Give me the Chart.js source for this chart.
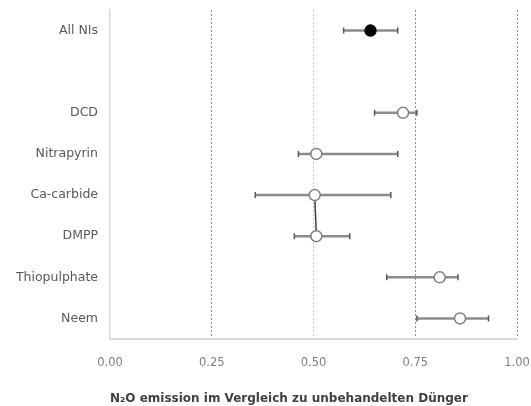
<!DOCTYPE html>
<html>
<head>
<meta charset="utf-8">
<script src="https://cdn.jsdelivr.net/npm/chart.js@4.4.1/dist/chart.umd.min.js"></script>
<style>
  html, body { margin: 0; padding: 0; background: #fff; }
  #wrap { width: 531px; height: 406px; position: relative; }
</style>
</head>
<body>
<div id="wrap"><canvas id="forestChart"></canvas></div>
<script>
// Kategorien (leere Zeile zwischen All NIs und DCD)
const categories = ['All NIs', '', 'DCD', 'Nitrapyrin', 'Ca-carbide', 'DMPP', 'Thiopulphate', 'Neem'];
const rows = ['All NIs', 'DCD', 'Nitrapyrin', 'Ca-carbide', 'DMPP', 'Thiopulphate', 'Neem'];
const means = [0.64, 0.72, 0.507, 0.503, 0.507, 0.81, 0.86];
const lower = [0.574, 0.65, 0.463, 0.357, 0.453, 0.68, 0.754];
const upper = [0.707, 0.754, 0.707, 0.69, 0.589, 0.855, 0.93];
const xTicks = [0, 0.25, 0.5, 0.75, 1];
const xTitle = 'N\u2082O emission im Vergleich zu unbehandelten Dünger';

// Fehlerbalken als eigene Linien
const errorSets = rows.map((r, i) => ({
    type: 'line',
    data: [{ x: lower[i], y: r }, { x: upper[i], y: r }],
    borderColor: '#8c8c8c',
    borderWidth: 2.5,
    pointStyle: 'line',
    rotation: 90,
    pointRadius: 3,
    pointBorderColor: '#595959',
    pointBorderWidth: 1.5,
    pointBackgroundColor: '#595959',
    order: 2
}));

// Verbindungslinie Ca-carbide / DMPP
const linkSet = {
    type: 'line',
    data: [{ x: means[3], y: rows[3] }, { x: means[4], y: rows[4] }],
    borderColor: '#404040',
    borderWidth: 1.5,
    pointRadius: 0,
    order: 1
};

const pointSet = {
    type: 'scatter',
    data: rows.map((r, i) => ({ x: means[i], y: r })),
    pointRadius: 5.5,
    pointBorderWidth: 1.5,
    pointBorderColor: rows.map((r, i) => i === 0 ? '#000000' : '#7f7f7f'),
    pointBackgroundColor: rows.map((r, i) => i === 0 ? '#000000' : '#ffffff'),
    order: 0
};

new Chart(document.getElementById('forestChart'), {
    type: 'scatter',
    data: { datasets: [...errorSets, linkSet, pointSet] },
    options: {
        responsive: true,
        maintainAspectRatio: false,
        animation: false,
        layout: { padding: { top: 10, right: 14, left: 0, bottom: 0 } },
        plugins: {
            legend: { display: false },
            tooltip: { enabled: false }
        },
        scales: {
            x: {
                type: 'linear',
                min: 0,
                max: 1,
                afterBuildTicks: (s) => { s.ticks = xTicks.map(v => ({ value: v })); },
                afterFit: (s) => { s.height = 67; s.paddingLeft = 0; s.paddingRight = 0; },
                ticks: {
                    callback: (v) => Number(v).toFixed(2),
                    color: '#7f7f7f',
                    font: { family: 'DejaVu Sans', size: 11.5 },
                    padding: 17
                },
                grid: {
                    drawTicks: false,
                    color: (c) => {
                        if (!c.tick || c.tick.value === 0) return 'rgba(0,0,0,0)';
                        return c.tick.value === 0.5 ? '#c8c8c8' : '#8c8c8c';
                    },
                    lineWidth: 1
                },
                border: { display: true, color: '#d9d9d9', width: 2, dash: [2, 2] },
                title: {
                    display: true,
                    text: xTitle,
                    align: 'start',
                    color: '#404040',
                    font: { family: 'DejaVu Sans', size: 12, weight: 'bold' },
                    padding: { top: 9, bottom: 0 }
                }
            },
            y: {
                type: 'category',
                labels: categories,
                offset: true,
                afterFit: (s) => { s.width = 110; s.paddingTop = 0; s.paddingBottom = 0; },
                ticks: {
                    color: '#595959',
                    font: { family: 'DejaVu Sans', size: 12.5 },
                    padding: 12
                },
                grid: { display: false, drawTicks: false },
                border: { display: true, color: '#d9d9d9', width: 1.5 }
            }
        }
    }
});
</script>
</body>
</html>
